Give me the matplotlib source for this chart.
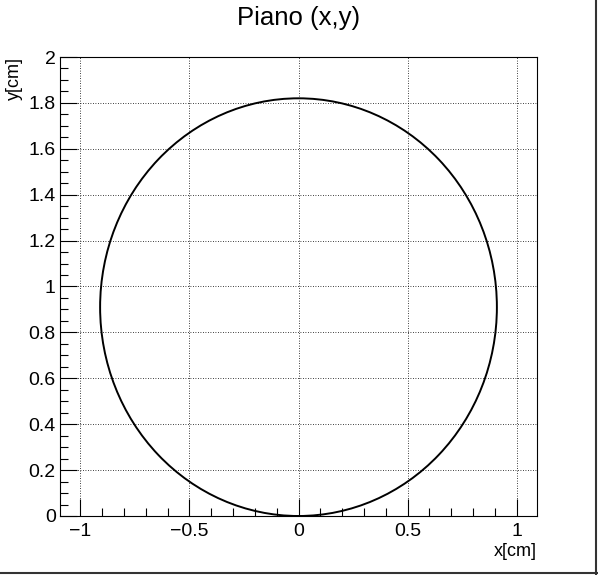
import matplotlib
matplotlib.use("Agg")
import matplotlib.pyplot as plt
from matplotlib.patches import Circle
from matplotlib.lines import Line2D
from matplotlib.ticker import MultipleLocator, FuncFormatter

# data
title = "Piano (x,y)"
x_label = "x[cm]"
y_label = "y[cm]"
center_x = 0.0
center_y = 0.91
radius = 0.91
x_range = (-1.094, 1.094)
y_range = (0.0, 2.0)

plt.rcParams["font.family"] = ["Liberation Sans", "DejaVu Sans"]

fig = plt.figure(figsize=(5.98, 5.75), dpi=100)
ax = fig.add_axes([60 / 598, 1 - 516 / 575, 477 / 598, 459 / 575])

ax.add_patch(Circle((center_x, center_y), radius, fill=False, edgecolor="black", linewidth=1.4))
ax.set_xlim(*x_range)
ax.set_ylim(*y_range)

ax.xaxis.set_major_locator(MultipleLocator(0.5))
ax.xaxis.set_minor_locator(MultipleLocator(0.1))
ax.yaxis.set_major_locator(MultipleLocator(0.2))
ax.yaxis.set_minor_locator(MultipleLocator(0.05))


def fmt(v, pos):
    s = f"{v:g}"
    return s.replace("-", "\u2212")


ax.xaxis.set_major_formatter(FuncFormatter(fmt))
ax.yaxis.set_major_formatter(FuncFormatter(fmt))

ax.tick_params(which="both", direction="in", top=False, right=False, labelsize=14, width=0.8)
ax.tick_params(which="major", length=12)
ax.tick_params(which="minor", length=6)
ax.tick_params(axis="x", pad=5)
ax.tick_params(axis="y", pad=3)
ax.grid(True, which="major", linestyle=(0, (1, 2)), color="black", linewidth=0.6)
for s in ax.spines.values():
    s.set_linewidth(0.8)

ax.set_xlabel(x_label, fontsize=13, loc="right", labelpad=2)
ax.set_ylabel(y_label, fontsize=13, loc="top", labelpad=4)
fig.text(0.5, 1 - 18 / 575, title, ha="center", va="center", fontsize=18.5)

# canvas bevel on right and bottom edges
fig.add_artist(Line2D([596 / 598, 596 / 598], [0, 1], transform=fig.transFigure,
                      color="#333333", linewidth=1.5))
fig.add_artist(Line2D([0, 1], [2 / 575, 2 / 575], transform=fig.transFigure,
                      color="#333333", linewidth=1.5))

fig.savefig("out.png", dpi=100)
